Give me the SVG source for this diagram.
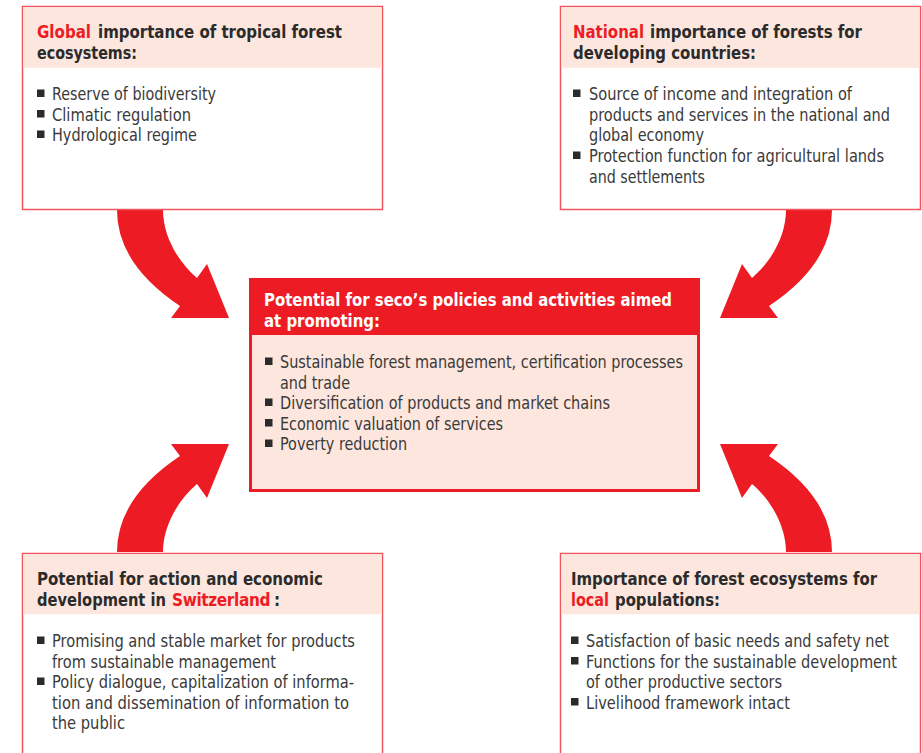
<svg xmlns="http://www.w3.org/2000/svg" width="922" height="753" viewBox="0 0 922 753">
<defs>
<style>
.box{fill:#ffffff;stroke:#f0555c;stroke-width:1.5}
.hdr{fill:#fde6de}
text{font-family:"DejaVu Sans Condensed","Liberation Sans",sans-serif;font-size:17px}
.h{font-weight:bold;fill:#2b2b2b}
.hw{font-weight:bold;fill:#ffffff}
.r{font-weight:bold;fill:#ed1c24}
.t{fill:#3a3a3a}
.b{fill:#2b2b2b}
.arrow{fill:#ed1c24}
</style>
<path id="arr" d="M117,210 L163,210 C163,235 177,261 197,278 L207,264 L229,318 L171,318 L180,306 Q117,264 117,210 Z"/>
</defs>
<rect width="922" height="753" fill="#ffffff"/>

<g id="connectors">
<use href="#arr" class="arrow"/>
<use href="#arr" class="arrow" transform="translate(949,0) scale(-1,1)"/>
<use href="#arr" class="arrow" transform="translate(0,762) scale(1,-1)"/>
<use href="#arr" class="arrow" transform="translate(949,762) scale(-1,-1)"/>
</g>

<g id="node-global">
<rect class="box" x="22.5" y="6.5" width="360" height="203"/>
<rect class="hdr" x="23.25" y="7.25" width="358.5" height="60.5"/>
<text class="r" x="37" y="38" textLength="54" lengthAdjust="spacingAndGlyphs">Global</text>
<text class="h" x="98" y="38" textLength="244" lengthAdjust="spacingAndGlyphs">importance of tropical forest</text>
<text class="h" x="37" y="59" textLength="100" lengthAdjust="spacingAndGlyphs">ecosystems:</text>
<rect class="b" x="37" y="89.5" width="7.5" height="7.5"/>
<rect class="b" x="37" y="110" width="7.5" height="7.5"/>
<rect class="b" x="37" y="130.5" width="7.5" height="7.5"/>
<text class="t" x="52" y="100" textLength="164" lengthAdjust="spacingAndGlyphs">Reserve of biodiversity</text>
<text class="t" x="52" y="120.5" textLength="139" lengthAdjust="spacingAndGlyphs">Climatic regulation</text>
<text class="t" x="52" y="141" textLength="145" lengthAdjust="spacingAndGlyphs">Hydrological regime</text>
</g>

<g id="node-national">
<rect class="box" x="560.5" y="6.5" width="360" height="203"/>
<rect class="hdr" x="561.25" y="7.25" width="358.5" height="60.5"/>
<text class="r" x="573" y="38" textLength="71" lengthAdjust="spacingAndGlyphs">National</text>
<text class="h" x="650" y="38" textLength="212" lengthAdjust="spacingAndGlyphs">importance of forests for</text>
<text class="h" x="573" y="59" textLength="183" lengthAdjust="spacingAndGlyphs">developing countries:</text>
<rect class="b" x="573" y="89.5" width="7.5" height="7.5"/>
<rect class="b" x="573" y="151.5" width="7.5" height="7.5"/>
<text class="t" x="589" y="100" textLength="263" lengthAdjust="spacingAndGlyphs">Source of income and integration of</text>
<text class="t" x="589" y="120.5" textLength="301" lengthAdjust="spacingAndGlyphs">products and services in the national and</text>
<text class="t" x="589" y="141" textLength="115" lengthAdjust="spacingAndGlyphs">global economy</text>
<text class="t" x="589" y="162" textLength="295" lengthAdjust="spacingAndGlyphs">Protection function for agricultural lands</text>
<text class="t" x="589" y="182.5" textLength="116" lengthAdjust="spacingAndGlyphs">and settlements</text>
</g>

<g id="node-seco">
<rect x="250.5" y="279.5" width="448" height="211" fill="#fde6de" stroke="#ed1c24" stroke-width="3"/>
<rect x="250" y="279" width="449" height="56" fill="#ed1c24"/>
<text class="hw" x="264" y="306" textLength="408" lengthAdjust="spacingAndGlyphs">Potential for seco’s policies and activities aimed</text>
<text class="hw" x="264" y="327" textLength="116" lengthAdjust="spacingAndGlyphs">at promoting:</text>
<rect class="b" x="265" y="357.5" width="7.5" height="7.5"/>
<rect class="b" x="265" y="398.5" width="7.5" height="7.5"/>
<rect class="b" x="265" y="419" width="7.5" height="7.5"/>
<rect class="b" x="265" y="439.5" width="7.5" height="7.5"/>
<text class="t" x="280" y="368" textLength="403" lengthAdjust="spacingAndGlyphs">Sustainable forest management, certification processes</text>
<text class="t" x="280" y="388.5" textLength="70" lengthAdjust="spacingAndGlyphs">and trade</text>
<text class="t" x="280" y="409" textLength="330" lengthAdjust="spacingAndGlyphs">Diversification of products and market chains</text>
<text class="t" x="280" y="429.5" textLength="223" lengthAdjust="spacingAndGlyphs">Economic valuation of services</text>
<text class="t" x="280" y="450" textLength="127" lengthAdjust="spacingAndGlyphs">Poverty reduction</text>
</g>

<g id="node-switzerland">
<rect class="box" x="22.5" y="553.5" width="360" height="210"/>
<rect class="hdr" x="23.25" y="554.25" width="358.5" height="60"/>
<text class="h" x="37" y="585" textLength="286" lengthAdjust="spacingAndGlyphs">Potential for action and economic</text>
<text class="h" x="37" y="606" textLength="129" lengthAdjust="spacingAndGlyphs">development in</text>
<text class="r" x="172" y="606" letter-spacing="-0.35">Switzerland</text>
<text class="h" x="274" y="606">:</text>
<rect class="b" x="37" y="636.5" width="7.5" height="7.5"/>
<rect class="b" x="37" y="677.5" width="7.5" height="7.5"/>
<text class="t" x="52" y="647" textLength="303" lengthAdjust="spacingAndGlyphs">Promising and stable market for products</text>
<text class="t" x="52" y="667.5" textLength="224" lengthAdjust="spacingAndGlyphs">from sustainable management</text>
<text class="t" x="52" y="688" textLength="302" lengthAdjust="spacingAndGlyphs">Policy dialogue, capitalization of informa-</text>
<text class="t" x="52" y="708.5" textLength="297" lengthAdjust="spacingAndGlyphs">tion and dissemination of information to</text>
<text class="t" x="52" y="729" textLength="73" lengthAdjust="spacingAndGlyphs">the public</text>
</g>

<g id="node-local">
<rect class="box" x="560.5" y="553.5" width="360" height="210"/>
<rect class="hdr" x="561.25" y="554.25" width="358.5" height="60"/>
<text class="h" x="571" y="585" textLength="306" lengthAdjust="spacingAndGlyphs">Importance of forest ecosystems for</text>
<text class="r" x="571" y="606" textLength="38" lengthAdjust="spacingAndGlyphs">local</text>
<text class="h" x="615" y="606" textLength="105" lengthAdjust="spacingAndGlyphs">populations:</text>
<rect class="b" x="571" y="636.5" width="7.5" height="7.5"/>
<rect class="b" x="571" y="657" width="7.5" height="7.5"/>
<rect class="b" x="571" y="698" width="7.5" height="7.5"/>
<text class="t" x="586" y="647" textLength="303" lengthAdjust="spacingAndGlyphs">Satisfaction of basic needs and safety net</text>
<text class="t" x="586" y="667.5" textLength="311" lengthAdjust="spacingAndGlyphs">Functions for the sustainable development</text>
<text class="t" x="586" y="688" textLength="196" lengthAdjust="spacingAndGlyphs">of other productive sectors</text>
<text class="t" x="586" y="708.5" textLength="204" lengthAdjust="spacingAndGlyphs">Livelihood framework intact</text>
</g>
</svg>
